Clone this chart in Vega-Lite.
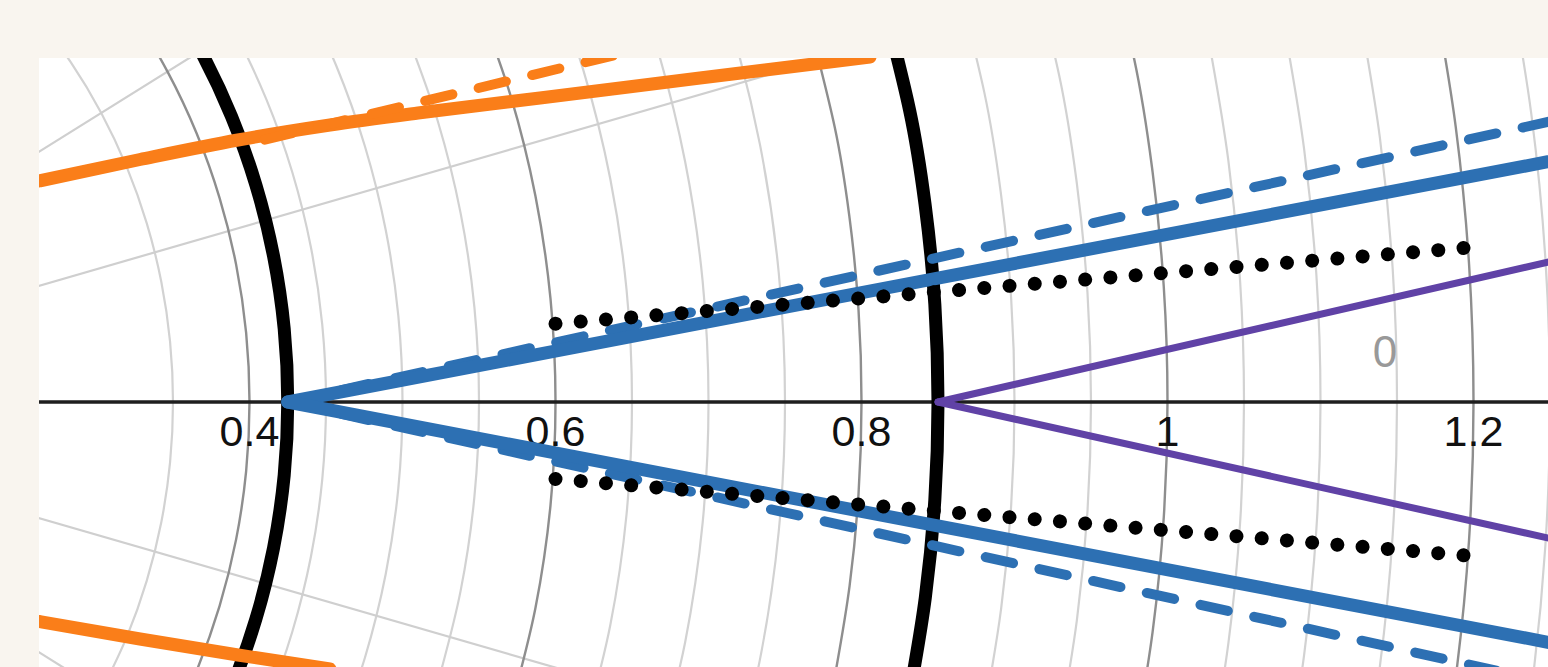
{
  "$schema": "https://vega.github.io/schema/vega-lite/v6.json",
  "width": 1509,
  "height": 609,
  "autosize": {"type": "none"},
  "padding": {"left": 39, "top": 58, "right": 0, "bottom": 0},
  "background": "#f9f5ef",
  "config": {"view": {"fill": "#ffffff", "stroke": null}},
  "datasets": {
    "minor": [
      {"r":0.35,"a":-30,"x":0.303109,"y":-0.175},{"r":0.35,"a":-24,"x":0.319741,"y":-0.142358},{"r":0.35,"a":-18,"x":0.33287,"y":-0.108156},{"r":0.35,"a":-12,"x":0.342352,"y":-0.072769},{"r":0.35,"a":-6,"x":0.348083,"y":-0.036585},{"r":0.35,"a":0,"x":0.35,"y":0},{"r":0.35,"a":6,"x":0.348083,"y":0.036585},{"r":0.35,"a":12,"x":0.342352,"y":0.072769},{"r":0.35,"a":18,"x":0.33287,"y":0.108156},{"r":0.35,"a":24,"x":0.319741,"y":0.142358},{"r":0.35,"a":30,"x":0.303109,"y":0.175},{"r":0.35,"a":36,"x":0.283156,"y":0.205725},{"r":0.35,"a":42,"x":0.260101,"y":0.234196},
      {"r":0.45,"a":-30,"x":0.389711,"y":-0.225},{"r":0.45,"a":-24,"x":0.411095,"y":-0.183032},{"r":0.45,"a":-18,"x":0.427976,"y":-0.139058},{"r":0.45,"a":-12,"x":0.440167,"y":-0.09356},{"r":0.45,"a":-6,"x":0.447535,"y":-0.047038},{"r":0.45,"a":0,"x":0.45,"y":0},{"r":0.45,"a":6,"x":0.447535,"y":0.047038},{"r":0.45,"a":12,"x":0.440167,"y":0.09356},{"r":0.45,"a":18,"x":0.427976,"y":0.139058},{"r":0.45,"a":24,"x":0.411095,"y":0.183032},{"r":0.45,"a":30,"x":0.389711,"y":0.225},{"r":0.45,"a":36,"x":0.364058,"y":0.264503},
      {"r":0.5,"a":-24,"x":0.456773,"y":-0.203369},{"r":0.5,"a":-18,"x":0.475529,"y":-0.154509},{"r":0.5,"a":-12,"x":0.489074,"y":-0.103956},{"r":0.5,"a":-6,"x":0.497261,"y":-0.052264},{"r":0.5,"a":0,"x":0.5,"y":0},{"r":0.5,"a":6,"x":0.497261,"y":0.052264},{"r":0.5,"a":12,"x":0.489074,"y":0.103956},{"r":0.5,"a":18,"x":0.475529,"y":0.154509},{"r":0.5,"a":24,"x":0.456773,"y":0.203369},{"r":0.5,"a":30,"x":0.433013,"y":0.25},
      {"r":0.55,"a":-18,"x":0.523081,"y":-0.169959},{"r":0.55,"a":-12,"x":0.537981,"y":-0.114352},{"r":0.55,"a":-6,"x":0.546987,"y":-0.05749},{"r":0.55,"a":0,"x":0.55,"y":0},{"r":0.55,"a":6,"x":0.546987,"y":0.05749},{"r":0.55,"a":12,"x":0.537981,"y":0.114352},{"r":0.55,"a":18,"x":0.523081,"y":0.169959},{"r":0.55,"a":24,"x":0.50245,"y":0.223705},
      {"r":0.65,"a":-18,"x":0.618187,"y":-0.200861},{"r":0.65,"a":-12,"x":0.635796,"y":-0.135143},{"r":0.65,"a":-6,"x":0.646439,"y":-0.067943},{"r":0.65,"a":0,"x":0.65,"y":0},{"r":0.65,"a":6,"x":0.646439,"y":0.067943},{"r":0.65,"a":12,"x":0.635796,"y":0.135143},{"r":0.65,"a":18,"x":0.618187,"y":0.200861},{"r":0.65,"a":24,"x":0.593804,"y":0.264379},
      {"r":0.7,"a":-18,"x":0.66574,"y":-0.216312},{"r":0.7,"a":-12,"x":0.684704,"y":-0.145538},{"r":0.7,"a":-6,"x":0.696165,"y":-0.07317},{"r":0.7,"a":0,"x":0.7,"y":0},{"r":0.7,"a":6,"x":0.696165,"y":0.07317},{"r":0.7,"a":12,"x":0.684704,"y":0.145538},{"r":0.7,"a":18,"x":0.66574,"y":0.216312},{"r":0.7,"a":24,"x":0.639482,"y":0.284716},
      {"r":0.75,"a":-18,"x":0.713293,"y":-0.231763},{"r":0.75,"a":-12,"x":0.733611,"y":-0.155934},{"r":0.75,"a":-6,"x":0.745892,"y":-0.078396},{"r":0.75,"a":0,"x":0.75,"y":0},{"r":0.75,"a":6,"x":0.745892,"y":0.078396},{"r":0.75,"a":12,"x":0.733611,"y":0.155934},{"r":0.75,"a":18,"x":0.713293,"y":0.231763},{"r":0.75,"a":24,"x":0.685159,"y":0.305053},
      {"r":0.9,"a":-12,"x":0.880333,"y":-0.187121},{"r":0.9,"a":-8,"x":0.891241,"y":-0.125256},{"r":0.9,"a":-4,"x":0.897808,"y":-0.06278},{"r":0.9,"a":0,"x":0.9,"y":0},{"r":0.9,"a":4,"x":0.897808,"y":0.06278},{"r":0.9,"a":8,"x":0.891241,"y":0.125256},{"r":0.9,"a":12,"x":0.880333,"y":0.187121},{"r":0.9,"a":18,"x":0.855951,"y":0.278115},
      {"r":0.95,"a":-12,"x":0.929241,"y":-0.197516},{"r":0.95,"a":-8,"x":0.940755,"y":-0.132214},{"r":0.95,"a":-4,"x":0.947686,"y":-0.066268},{"r":0.95,"a":0,"x":0.95,"y":0},{"r":0.95,"a":4,"x":0.947686,"y":0.066268},{"r":0.95,"a":8,"x":0.940755,"y":0.132214},{"r":0.95,"a":12,"x":0.929241,"y":0.197516},{"r":0.95,"a":18,"x":0.903504,"y":0.293566},
      {"r":1.05,"a":-12,"x":1.027055,"y":-0.218308},{"r":1.05,"a":-8,"x":1.039781,"y":-0.146132},{"r":1.05,"a":-4,"x":1.047442,"y":-0.073244},{"r":1.05,"a":0,"x":1.05,"y":0},{"r":1.05,"a":4,"x":1.047442,"y":0.073244},{"r":1.05,"a":8,"x":1.039781,"y":0.146132},{"r":1.05,"a":12,"x":1.027055,"y":0.218308},
      {"r":1.1,"a":-12,"x":1.075963,"y":-0.228703},{"r":1.1,"a":-8,"x":1.089295,"y":-0.15309},{"r":1.1,"a":-4,"x":1.09732,"y":-0.076732},{"r":1.1,"a":0,"x":1.1,"y":0},{"r":1.1,"a":4,"x":1.09732,"y":0.076732},{"r":1.1,"a":8,"x":1.089295,"y":0.15309},{"r":1.1,"a":12,"x":1.075963,"y":0.228703},
      {"r":1.15,"a":-12,"x":1.12487,"y":-0.239099},{"r":1.15,"a":-8,"x":1.138808,"y":-0.160049},{"r":1.15,"a":-4,"x":1.147199,"y":-0.080219},{"r":1.15,"a":0,"x":1.15,"y":0},{"r":1.15,"a":4,"x":1.147199,"y":0.080219},{"r":1.15,"a":8,"x":1.138808,"y":0.160049},{"r":1.15,"a":12,"x":1.12487,"y":0.239099},
      {"r":1.25,"a":-12,"x":1.222685,"y":-0.25989},{"r":1.25,"a":-8,"x":1.237835,"y":-0.173966},{"r":1.25,"a":-4,"x":1.246955,"y":-0.087195},{"r":1.25,"a":0,"x":1.25,"y":0},{"r":1.25,"a":4,"x":1.246955,"y":0.087195},{"r":1.25,"a":8,"x":1.237835,"y":0.173966},{"r":1.25,"a":12,"x":1.222685,"y":0.25989}
    ],
    "major": [
      {"r":0.4,"a":-30,"x":0.34641,"y":-0.2},{"r":0.4,"a":-24,"x":0.365418,"y":-0.162695},{"r":0.4,"a":-18,"x":0.380423,"y":-0.123607},{"r":0.4,"a":-12,"x":0.391259,"y":-0.083165},{"r":0.4,"a":-6,"x":0.397809,"y":-0.041811},{"r":0.4,"a":0,"x":0.4,"y":0},{"r":0.4,"a":6,"x":0.397809,"y":0.041811},{"r":0.4,"a":12,"x":0.391259,"y":0.083165},{"r":0.4,"a":18,"x":0.380423,"y":0.123607},{"r":0.4,"a":24,"x":0.365418,"y":0.162695},{"r":0.4,"a":30,"x":0.34641,"y":0.2},{"r":0.4,"a":36,"x":0.323607,"y":0.235114},{"r":0.4,"a":42,"x":0.297258,"y":0.267652},
      {"r":0.6,"a":-18,"x":0.570634,"y":-0.18541},{"r":0.6,"a":-12,"x":0.586889,"y":-0.124747},{"r":0.6,"a":-6,"x":0.596713,"y":-0.062717},{"r":0.6,"a":0,"x":0.6,"y":0},{"r":0.6,"a":6,"x":0.596713,"y":0.062717},{"r":0.6,"a":12,"x":0.586889,"y":0.124747},{"r":0.6,"a":18,"x":0.570634,"y":0.18541},{"r":0.6,"a":24,"x":0.548127,"y":0.244042},
      {"r":0.8,"a":-12,"x":0.782518,"y":-0.16633},{"r":0.8,"a":-8,"x":0.792214,"y":-0.111338},{"r":0.8,"a":-4,"x":0.798051,"y":-0.055805},{"r":0.8,"a":0,"x":0.8,"y":0},{"r":0.8,"a":4,"x":0.798051,"y":0.055805},{"r":0.8,"a":8,"x":0.792214,"y":0.111338},{"r":0.8,"a":12,"x":0.782518,"y":0.16633},{"r":0.8,"a":18,"x":0.760846,"y":0.247214},
      {"r":1.0,"a":-12,"x":0.978148,"y":-0.207912},{"r":1.0,"a":-8,"x":0.990268,"y":-0.139173},{"r":1.0,"a":-4,"x":0.997564,"y":-0.069756},{"r":1.0,"a":0,"x":1.0,"y":0},{"r":1.0,"a":4,"x":0.997564,"y":0.069756},{"r":1.0,"a":8,"x":0.990268,"y":0.139173},{"r":1.0,"a":12,"x":0.978148,"y":0.207912},{"r":1.0,"a":18,"x":0.951057,"y":0.309017},
      {"r":1.2,"a":-12,"x":1.173778,"y":-0.249494},{"r":1.2,"a":-8,"x":1.188322,"y":-0.167008},{"r":1.2,"a":-4,"x":1.197077,"y":-0.083707},{"r":1.2,"a":0,"x":1.2,"y":0},{"r":1.2,"a":4,"x":1.197077,"y":0.083707},{"r":1.2,"a":8,"x":1.188322,"y":0.167008},{"r":1.2,"a":12,"x":1.173778,"y":0.249494}
    ],
    "black": [
      {"r":0.425,"a":-30,"x":0.368061,"y":-0.2125},{"r":0.425,"a":-24,"x":0.388257,"y":-0.172863},{"r":0.425,"a":-18,"x":0.404199,"y":-0.131332},{"r":0.425,"a":-12,"x":0.415713,"y":-0.088363},{"r":0.425,"a":-6,"x":0.422672,"y":-0.044424},{"r":0.425,"a":0,"x":0.425,"y":0},{"r":0.425,"a":6,"x":0.422672,"y":0.044424},{"r":0.425,"a":12,"x":0.415713,"y":0.088363},{"r":0.425,"a":18,"x":0.404199,"y":0.131332},{"r":0.425,"a":24,"x":0.388257,"y":0.172863},{"r":0.425,"a":30,"x":0.368061,"y":0.2125},{"r":0.425,"a":36,"x":0.343832,"y":0.249809},{"r":0.425,"a":42,"x":0.315837,"y":0.284381},
      {"r":0.85,"a":-12,"x":0.831426,"y":-0.176725},{"r":0.85,"a":-8,"x":0.841728,"y":-0.118297},{"r":0.85,"a":-4,"x":0.847929,"y":-0.059293},{"r":0.85,"a":0,"x":0.85,"y":0},{"r":0.85,"a":4,"x":0.847929,"y":0.059293},{"r":0.85,"a":8,"x":0.841728,"y":0.118297},{"r":0.85,"a":12,"x":0.831426,"y":0.176725},{"r":0.85,"a":18,"x":0.808398,"y":0.262664}
    ],
    "radial": [
      {"x":0,"y":0,"x2":1.448889,"y2":0.388229},
      {"x":0,"y":0,"x2":1.448889,"y2":-0.388229},
      {"x":0,"y":0,"x2":1.299038,"y2":0.75},
      {"x":0,"y":0,"x2":1.299038,"y2":-0.75}
    ],
    "ticks": [
      {"x":0.4,"y":0,"t":"0.4"},{"x":0.6,"y":0,"t":"0.6"},{"x":0.8,"y":0,"t":"0.8"},{"x":1.0,"y":0,"t":"1"},{"x":1.2,"y":0,"t":"1.2"}
    ],
    "orangeSolid": [
      {"id":"top","x":0.26242,"y":0.13378},{"id":"top","x":0.32843,"y":0.14679},{"id":"top","x":0.39248,"y":0.1586},{"id":"top","x":0.45261,"y":0.16768},{"id":"top","x":0.51013,"y":0.17494},{"id":"top","x":0.58987,"y":0.18402},{"id":"top","x":0.69444,"y":0.19613},{"id":"top","x":0.80556,"y":0.20884},
      {"id":"bot","x":0.26242,"y":-0.13287},{"id":"bot","x":0.32843,"y":-0.14346},{"id":"bot","x":0.39248,"y":-0.15315},{"id":"bot","x":0.45261,"y":-0.16162}
    ],
    "orangeDashed": [
      {"id":"top","x":0.41,"y":0.1588},{"id":"top","x":0.65,"y":0.2125}
    ],
    "blueSolid": [
      {"id":"up","x":0.425,"y":0},{"id":"up","x":1.3,"y":0.1545},
      {"id":"dn","x":0.425,"y":0},{"id":"dn","x":1.3,"y":-0.1545}
    ],
    "blueDashed": [
      {"id":"up","x":0.425,"y":0},{"id":"up","x":1.3,"y":0.1801},
      {"id":"dn","x":0.425,"y":0},{"id":"dn","x":1.3,"y":-0.1801}
    ],
    "purple": [
      {"id":"up","x":0.85,"y":0},{"id":"up","x":1.3,"y":0.0956},
      {"id":"dn","x":0.85,"y":0},{"id":"dn","x":1.3,"y":-0.0929}
    ],
    "dots": [
      {"id":"up","x":0.6,"y":0.0474},{"id":"up","x":1.2,"y":0.0937},
      {"id":"dn","x":0.6,"y":-0.0466},{"id":"dn","x":1.2,"y":-0.0933}
    ],
    "note": [
      {"x":1.1421,"y":0.0212,"t":"0"}
    ]
  },
  "layer": [
    {
      "data": {"name": "minor"},
      "mark": {"type": "line", "stroke": "#d2d2d2", "strokeWidth": 2.2, "interpolate": "cardinal", "clip": true},
      "encoding": {
        "x": {"field": "x", "type": "quantitative", "scale": {"domain": [0.26242, 1.24869], "nice": false, "zero": false}, "axis": null},
        "y": {"field": "y", "type": "quantitative", "scale": {"domain": [-0.16041, 0.20823], "nice": false, "zero": false}, "axis": null},
        "detail": {"field": "r"},
        "order": {"field": "a", "type": "quantitative"}
      }
    },
    {
      "data": {"name": "radial"},
      "mark": {"type": "rule", "stroke": "#cfcfcf", "strokeWidth": 2.2, "clip": true},
      "encoding": {
        "x": {"field": "x", "type": "quantitative", "scale": {"domain": [0.26242, 1.24869], "nice": false, "zero": false}, "axis": null},
        "y": {"field": "y", "type": "quantitative", "scale": {"domain": [-0.16041, 0.20823], "nice": false, "zero": false}, "axis": null},
        "x2": {"field": "x2"},
        "y2": {"field": "y2"}
      }
    },
    {
      "data": {"name": "major"},
      "mark": {"type": "line", "stroke": "#8e8e8e", "strokeWidth": 2.4, "interpolate": "cardinal", "clip": true},
      "encoding": {
        "x": {"field": "x", "type": "quantitative", "scale": {"domain": [0.26242, 1.24869], "nice": false, "zero": false}, "axis": null},
        "y": {"field": "y", "type": "quantitative", "scale": {"domain": [-0.16041, 0.20823], "nice": false, "zero": false}, "axis": null},
        "detail": {"field": "r"},
        "order": {"field": "a", "type": "quantitative"}
      }
    },
    {
      "data": {"values": [{"y": 0}]},
      "mark": {"type": "rule", "stroke": "#1e1e1e", "strokeWidth": 3.4},
      "encoding": {
        "y": {"field": "y", "type": "quantitative", "scale": {"domain": [-0.16041, 0.20823], "nice": false, "zero": false}, "axis": null}
      }
    },
    {
      "data": {"name": "ticks"},
      "mark": {"type": "text", "font": "Liberation Sans", "fontSize": 43, "color": "#111111", "align": "center", "baseline": "alphabetic", "dy": 44},
      "encoding": {
        "x": {"field": "x", "type": "quantitative", "scale": {"domain": [0.26242, 1.24869], "nice": false, "zero": false}, "axis": null},
        "y": {"field": "y", "type": "quantitative", "scale": {"domain": [-0.16041, 0.20823], "nice": false, "zero": false}, "axis": null},
        "text": {"field": "t"}
      }
    },
    {
      "data": {"name": "black"},
      "mark": {"type": "line", "stroke": "#000000", "strokeWidth": 13, "interpolate": "cardinal", "clip": true},
      "encoding": {
        "x": {"field": "x", "type": "quantitative", "scale": {"domain": [0.26242, 1.24869], "nice": false, "zero": false}, "axis": null},
        "y": {"field": "y", "type": "quantitative", "scale": {"domain": [-0.16041, 0.20823], "nice": false, "zero": false}, "axis": null},
        "detail": {"field": "r"},
        "order": {"field": "a", "type": "quantitative"}
      }
    },
    {
      "data": {"name": "orangeSolid"},
      "mark": {"type": "line", "stroke": "#fa7e19", "strokeWidth": 13, "interpolate": "monotone", "strokeCap": "round", "clip": true},
      "encoding": {
        "x": {"field": "x", "type": "quantitative", "scale": {"domain": [0.26242, 1.24869], "nice": false, "zero": false}, "axis": null},
        "y": {"field": "y", "type": "quantitative", "scale": {"domain": [-0.16041, 0.20823], "nice": false, "zero": false}, "axis": null},
        "detail": {"field": "id"},
        "order": {"field": "x", "type": "quantitative"}
      }
    },
    {
      "data": {"name": "orangeDashed"},
      "mark": {"type": "line", "stroke": "#fa7e19", "strokeWidth": 10, "strokeDash": [28, 27], "strokeCap": "round", "clip": true},
      "encoding": {
        "x": {"field": "x", "type": "quantitative", "scale": {"domain": [0.26242, 1.24869], "nice": false, "zero": false}, "axis": null},
        "y": {"field": "y", "type": "quantitative", "scale": {"domain": [-0.16041, 0.20823], "nice": false, "zero": false}, "axis": null},
        "detail": {"field": "id"},
        "order": {"field": "x", "type": "quantitative"}
      }
    },
    {
      "data": {"name": "blueDashed"},
      "mark": {"type": "line", "stroke": "#2d70b3", "strokeWidth": 10, "strokeDash": [28, 27], "strokeCap": "round", "clip": true},
      "encoding": {
        "x": {"field": "x", "type": "quantitative", "scale": {"domain": [0.26242, 1.24869], "nice": false, "zero": false}, "axis": null},
        "y": {"field": "y", "type": "quantitative", "scale": {"domain": [-0.16041, 0.20823], "nice": false, "zero": false}, "axis": null},
        "detail": {"field": "id"},
        "order": {"field": "x", "type": "quantitative"}
      }
    },
    {
      "data": {"name": "blueSolid"},
      "mark": {"type": "line", "stroke": "#2d70b3", "strokeWidth": 13, "strokeCap": "round", "clip": true},
      "encoding": {
        "x": {"field": "x", "type": "quantitative", "scale": {"domain": [0.26242, 1.24869], "nice": false, "zero": false}, "axis": null},
        "y": {"field": "y", "type": "quantitative", "scale": {"domain": [-0.16041, 0.20823], "nice": false, "zero": false}, "axis": null},
        "detail": {"field": "id"},
        "order": {"field": "x", "type": "quantitative"}
      }
    },
    {
      "data": {"name": "purple"},
      "mark": {"type": "line", "stroke": "#6042a6", "strokeWidth": 7, "strokeCap": "round", "clip": true},
      "encoding": {
        "x": {"field": "x", "type": "quantitative", "scale": {"domain": [0.26242, 1.24869], "nice": false, "zero": false}, "axis": null},
        "y": {"field": "y", "type": "quantitative", "scale": {"domain": [-0.16041, 0.20823], "nice": false, "zero": false}, "axis": null},
        "detail": {"field": "id"},
        "order": {"field": "x", "type": "quantitative"}
      }
    },
    {
      "data": {"name": "dots"},
      "mark": {"type": "line", "stroke": "#000000", "strokeWidth": 14, "strokeDash": [0.01, 25.3], "strokeCap": "round", "clip": true},
      "encoding": {
        "x": {"field": "x", "type": "quantitative", "scale": {"domain": [0.26242, 1.24869], "nice": false, "zero": false}, "axis": null},
        "y": {"field": "y", "type": "quantitative", "scale": {"domain": [-0.16041, 0.20823], "nice": false, "zero": false}, "axis": null},
        "detail": {"field": "id"},
        "order": {"field": "x", "type": "quantitative"}
      }
    },
    {
      "data": {"name": "note"},
      "mark": {"type": "text", "font": "Liberation Sans", "fontSize": 44, "color": "#999999", "align": "center", "baseline": "alphabetic"},
      "encoding": {
        "x": {"field": "x", "type": "quantitative", "scale": {"domain": [0.26242, 1.24869], "nice": false, "zero": false}, "axis": null},
        "y": {"field": "y", "type": "quantitative", "scale": {"domain": [-0.16041, 0.20823], "nice": false, "zero": false}, "axis": null},
        "text": {"field": "t"}
      }
    }
  ]
}
